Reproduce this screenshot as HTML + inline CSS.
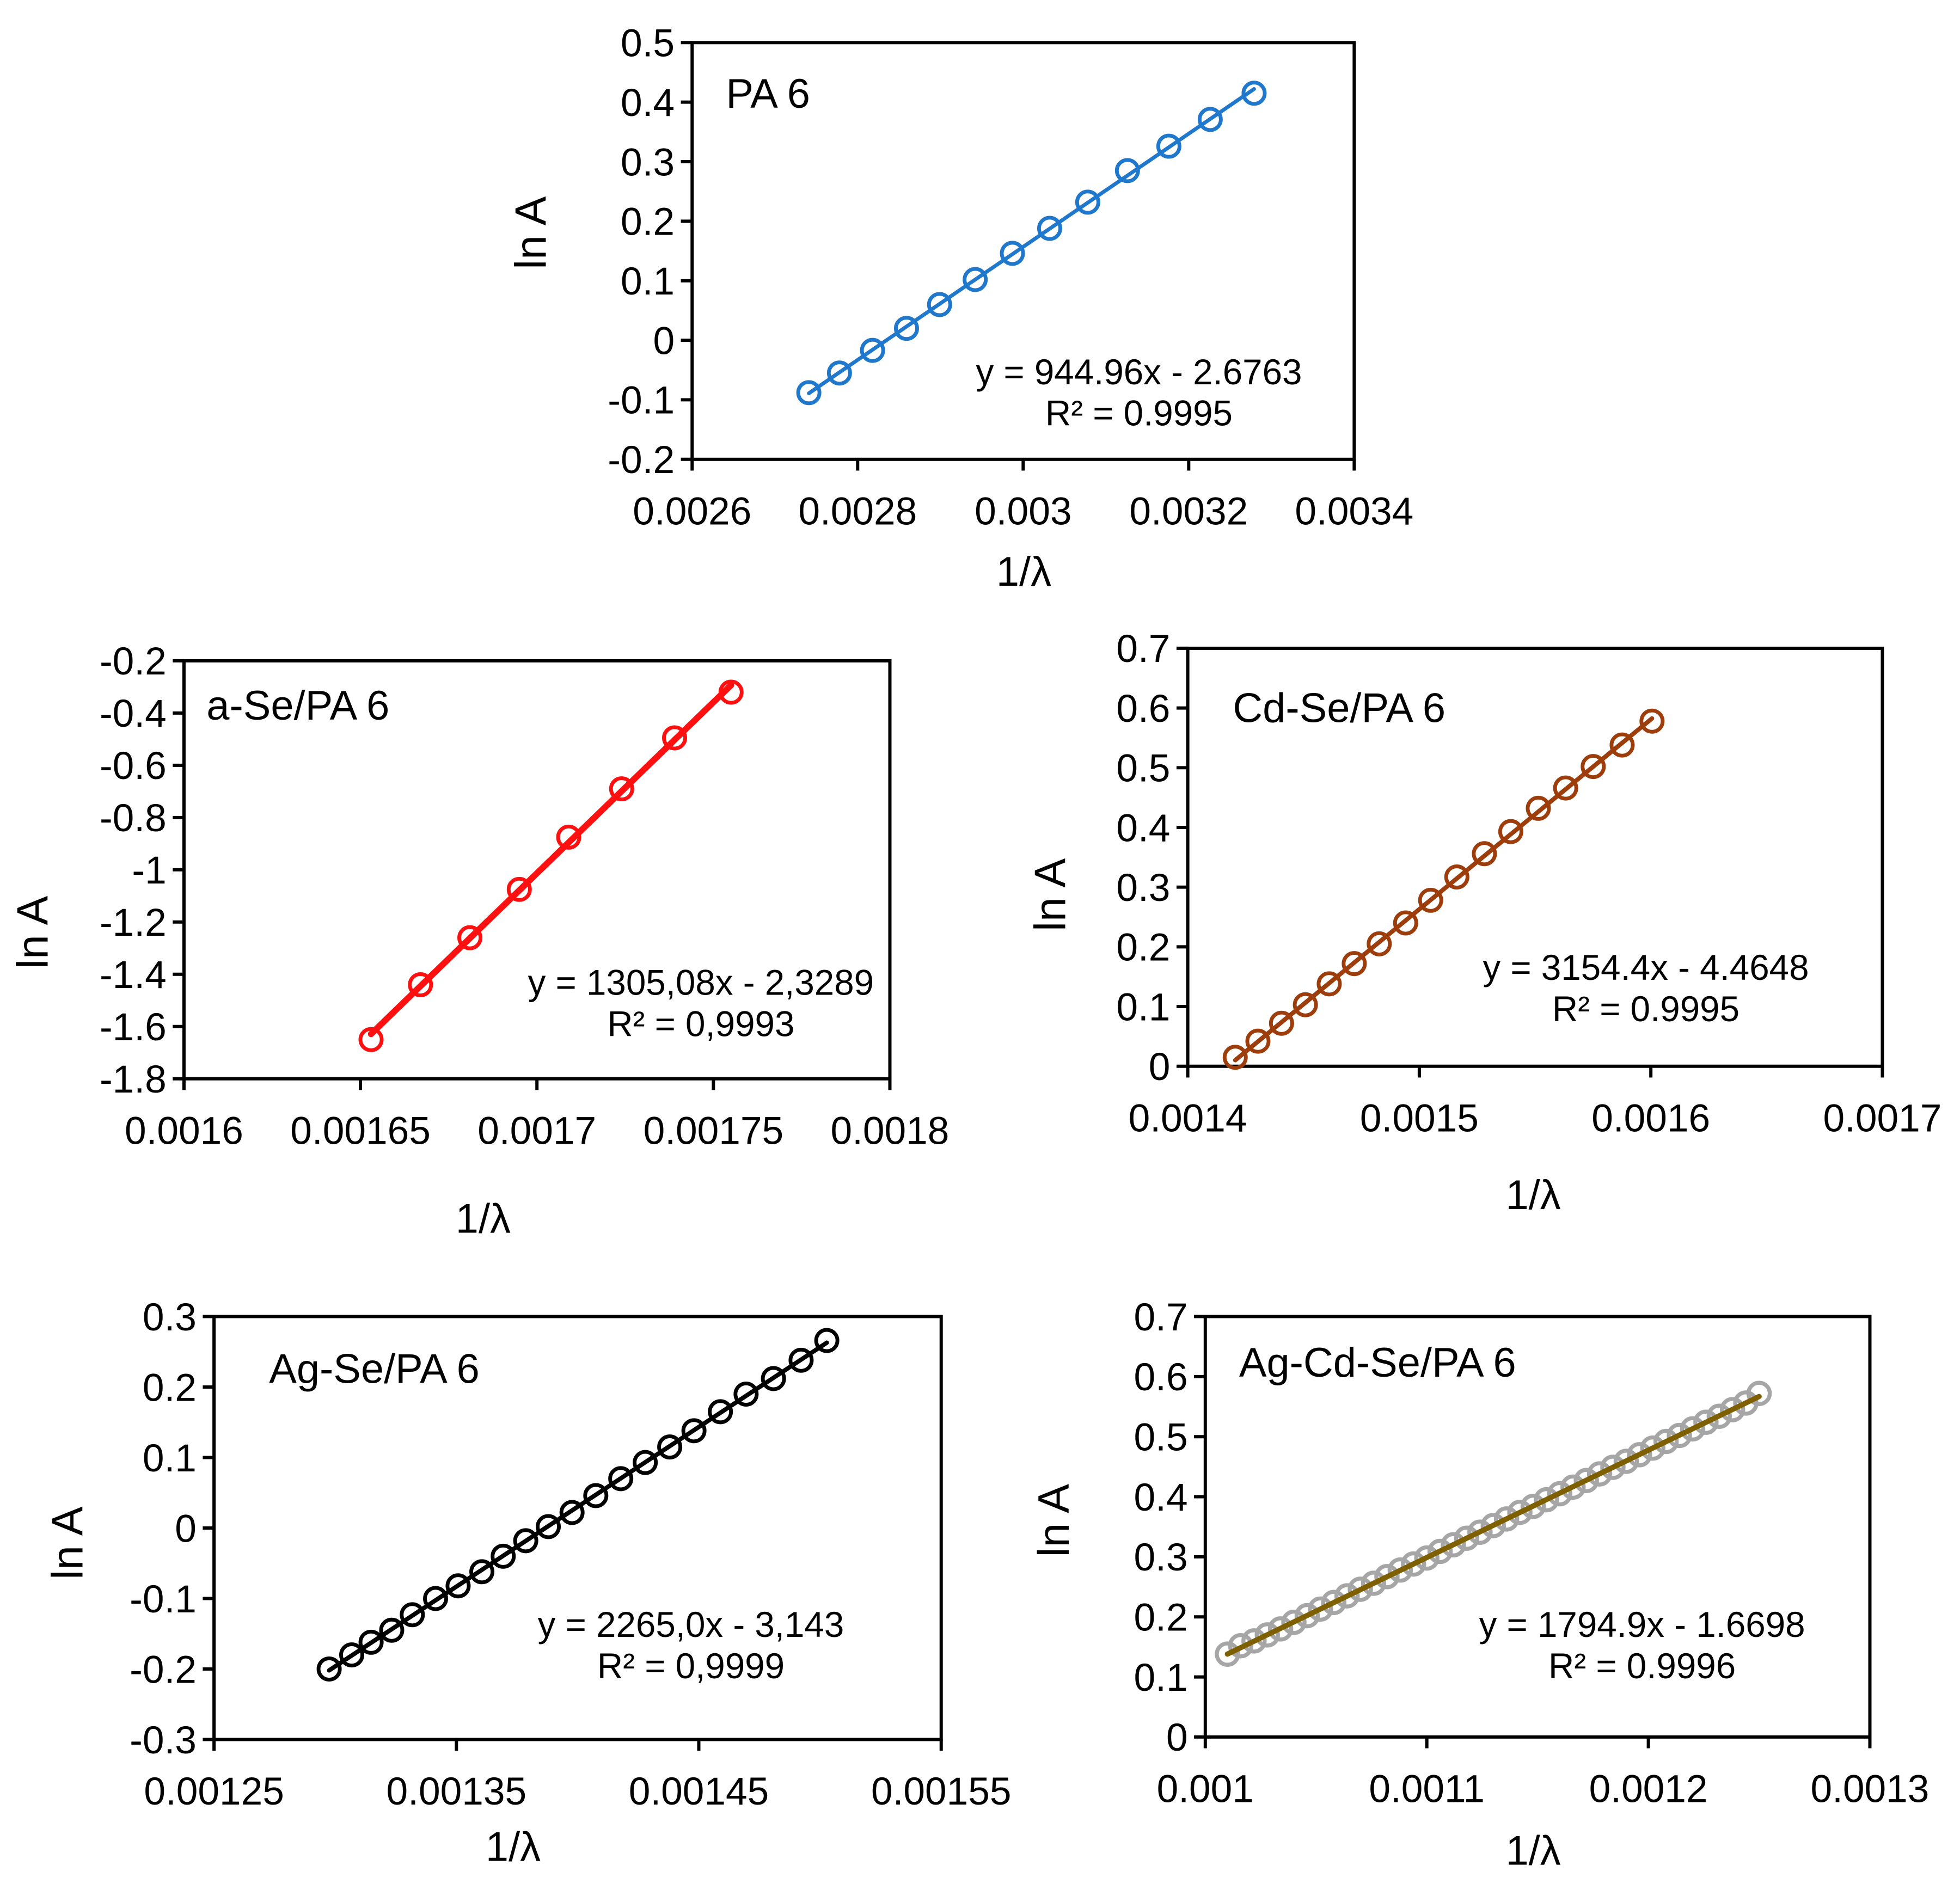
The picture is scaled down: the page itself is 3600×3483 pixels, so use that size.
<!DOCTYPE html>
<html><head><meta charset="utf-8"><style>
html,body{margin:0;padding:0;background:#fff;}
svg{display:block;font-family:"Liberation Sans",Arial,sans-serif;}
</style></head><body>
<svg id="fig" xmlns="http://www.w3.org/2000/svg" width="3600" height="3483" viewBox="0 0 1566 1515">
<rect width="1566" height="1515" fill="#fff"/>
</svg>
<script>
// PA 6
const pa6X = [0.002741,0.002778,0.002818,0.002859,0.002899,0.002942,0.002987,0.003032,0.003078,0.003126,0.003176,0.003226,0.003279];
const pa6Y = [-0.088,-0.055,-0.017,0.020,0.060,0.102,0.146,0.188,0.232,0.285,0.326,0.371,0.415];
const pa6XTicks = ["0.0026","0.0028","0.003","0.0032","0.0034"];
const pa6YTicks = ["-0.2","-0.1","0","0.1","0.2","0.3","0.4","0.5"];
// a-Se/PA 6
const aseX = [0.001653,0.001667,0.001681,0.001695,0.001709,0.001724,0.001739,0.001755];
const aseY = [-1.65,-1.44,-1.26,-1.075,-0.875,-0.69,-0.495,-0.32];
const aseXTicks = ["0.0016","0.00165","0.0017","0.00175","0.0018"];
const aseYTicks = ["-1.8","-1.6","-1.4","-1.2","-1","-0.8","-0.6","-0.4","-0.2"];
// Cd-Se/PA 6
const cdseX = [0.0014205,0.0014303,0.0014405,0.0014508,0.0014611,0.0014719,0.0014827,0.0014941,0.0015049,0.0015162,0.0015281,0.0015395,0.0015514,0.0015632,0.0015751,0.0015876,0.0016005];
const cdseY = [0.015,0.042,0.072,0.103,0.138,0.172,0.205,0.240,0.278,0.317,0.356,0.393,0.432,0.466,0.502,0.538,0.578];
const cdseXTicks = ["0.0014","0.0015","0.0016","0.0017"];
const cdseYTicks = ["0","0.1","0.2","0.3","0.4","0.5","0.6","0.7"];
// Ag-Se/PA 6
const agseX = [0.0012975,0.0013068,0.0013148,0.0013233,0.0013318,0.0013414,0.0013507,0.0013605,0.0013693,0.0013786,0.0013879,0.0013977,0.0014075,0.0014178,0.0014279,0.0014380,0.0014480,0.0014589,0.0014695,0.0014808,0.0014922,0.0015028];
const agseY = [-0.200,-0.180,-0.162,-0.145,-0.123,-0.100,-0.082,-0.062,-0.040,-0.018,0.002,0.022,0.046,0.070,0.093,0.115,0.138,0.165,0.190,0.212,0.238,0.266];
const agseXTicks = ["0.00125","0.00135","0.00145","0.00155"];
const agseYTicks = ["-0.3","-0.2","-0.1","0","0.1","0.2","0.3"];
// Ag-Cd-Se/PA 6
const agcdseX = [0.001010,0.001016,0.001022,0.001028,0.001034,0.001040,0.001046,0.001052,0.001058,0.001064,0.001070,0.001076,0.001082,0.001088,0.001094,0.001100,0.001106,0.001112,0.001118,0.001124,0.001130,0.001136,0.001142,0.001148,0.001154,0.001160,0.001166,0.001172,0.001178,0.001184,0.001190,0.001196,0.001202,0.001208,0.001214,0.001220,0.001226,0.001232,0.001238,0.001244,0.001250];
const agcdseY = [0.138,0.152,0.160,0.170,0.180,0.191,0.202,0.213,0.224,0.235,0.246,0.256,0.267,0.278,0.288,0.298,0.309,0.320,0.331,0.341,0.352,0.363,0.374,0.384,0.395,0.405,0.416,0.427,0.438,0.449,0.459,0.470,0.481,0.492,0.502,0.513,0.524,0.534,0.545,0.556,0.572];
const agcdseXTicks = ["0.001","0.0011","0.0012","0.0013"];
const agcdseYTicks = ["0","0.1","0.2","0.3","0.4","0.5","0.6","0.7"];

const NS = "http://www.w3.org/2000/svg";
const svg = document.getElementById('fig');
function mk(tag, attrs, parent){
  const e = document.createElementNS(NS, tag);
  for (const k in attrs) e.setAttribute(k, attrs[k]);
  parent.appendChild(e); return e;
}
function txt(s, x, y, size, anchor, parent){
  const t = mk('text', {x:x, y:y, 'font-size':size, 'text-anchor':anchor, fill:'#000'}, parent);
  t.textContent = s; return t;
}
function chart(c){
  const g = mk('g', {}, svg);
  
  
  const xs = c.xTicks.map(Number), ys = c.yTicks.map(Number);
  const x0 = xs[0], x1 = xs[xs.length-1], y0 = ys[0], y1 = ys[ys.length-1];
  const sx = v => c.L + (v - x0) / (x1 - x0) * (c.R - c.L);
  const sy = v => c.B - (v - y0) / (y1 - y0) * (c.B - c.T);
  const box = mk('rect', {x:c.L, y:c.T, width:c.R-c.L, height:c.B-c.T, fill:'none', stroke:'#000', 'stroke-width':2.6}, g);
  
  
  c.yTicks.forEach((s,i) => {
    const y = sy(ys[i]);
    mk('line', {x1:c.L-9, x2:c.L, y1:y, y2:y, stroke:'#000', 'stroke-width':2.6}, g);
    const t = txt(s, c.L-14, y+11, 31, 'end', g);
    
    
  });
  c.xTicks.forEach((s,i) => {
    const x = sx(xs[i]);
    mk('line', {x1:x, x2:x, y1:c.B, y2:c.B+9, stroke:'#000', 'stroke-width':2.6}, g);
    const t = txt(s, x, c.B+52, 31, 'middle', g);
    
    
  });
  const n = c.x.length;
  let mx=0,my=0; for (let i=0;i<n;i++){mx+=c.x[i];my+=c.y[i];} mx/=n; my/=n;
  let sxy=0,sxx=0; for (let i=0;i<n;i++){sxy+=(c.x[i]-mx)*(c.y[i]-my); sxx+=(c.x[i]-mx)**2;}
  const m = sxy/sxx, b = my - m*mx;
  const xa = Math.min(...c.x), xb = Math.max(...c.x);
  c.x.forEach((v,i) => {
    const p = mk('circle', {cx:sx(v), cy:sy(c.y[i]), r:c.r, fill:'none', stroke:c.mcolor, 'stroke-width':c.mw}, g);
    
    
  });
  const ln = mk('line', {x1:sx(xa), y1:sy(m*xa+b), x2:sx(xb), y2:sy(m*xb+b), stroke:c.lcolor, 'stroke-width':c.lw, 'stroke-linecap':'round'}, g);
  
  
  const ti = txt(c.title, c.titleX, c.titleY, 33, 'start', g);
  
  
  const e1 = txt(c.eq1, c.eqX, c.eqY, 28.5, 'middle', g);
  
  
  const e2 = txt(c.eq2, c.eqX, c.eqY+33, 28.5, 'middle', g);
  
  
  const xt = txt('1/λ', c.xtX, c.xtY, 33, 'middle', g);
  
  
  const yt = txt('ln A', c.ytX, c.ytY, 35, 'middle', g);
  yt.setAttribute('transform', `rotate(-90 ${c.ytX} ${c.ytY})`);
  
  
}
chart({name:'chart-pa6', x:pa6X, y:pa6Y, xTicks:pa6XTicks, yTicks:pa6YTicks, L:553, R:1082, T:34, B:367,
  mcolor:'#1F78CC', lcolor:'#1F78CC', r:8.5, mw:3, lw:3, title:'PA 6', titleX:580, titleY:86,
  eq1:'y = 944.96x - 2.6763', eq2:'R² = 0.9995', eqX:910, eqY:307, xtX:818, xtY:468, ytX:436, ytY:186});
chart({name:'chart-a-se-pa6', x:aseX, y:aseY, xTicks:aseXTicks, yTicks:aseYTicks, L:147, R:711, T:528, B:862,
  mcolor:'#FF1010', lcolor:'#FF1010', r:8.5, mw:3, lw:5, title:'a-Se/PA 6', titleX:165, titleY:575,
  eq1:'y = 1305,08x - 2,3289', eq2:'R² = 0,9993', eqX:560, eqY:795, xtX:386, xtY:985, ytX:38, ytY:745});
chart({name:'chart-cd-se-pa6', x:cdseX, y:cdseY, xTicks:cdseXTicks, yTicks:cdseYTicks, L:949, R:1504, T:518, B:852,
  mcolor:'#9C3D0B', lcolor:'#9C3D0B', r:8.5, mw:3, lw:3.5, title:'Cd-Se/PA 6', titleX:985, titleY:577,
  eq1:'y = 3154.4x - 4.4648', eq2:'R² = 0.9995', eqX:1315, eqY:783, xtX:1225, xtY:966, ytX:851, ytY:715});
chart({name:'chart-ag-se-pa6', x:agseX, y:agseY, xTicks:agseXTicks, yTicks:agseYTicks, L:171, R:752, T:1052, B:1390,
  mcolor:'#000', lcolor:'#000', r:8.5, mw:3, lw:3.5, title:'Ag-Se/PA 6', titleX:215, titleY:1105,
  eq1:'y = 2265,0x - 3,143', eq2:'R² = 0,9999', eqX:552, eqY:1308, xtX:410, xtY:1487, ytX:66, ytY:1233});
chart({name:'chart-ag-cd-se-pa6', x:agcdseX, y:agcdseY, xTicks:agcdseXTicks, yTicks:agcdseYTicks, L:963, R:1494, T:1052, B:1388,
  mcolor:'#A6A6A6', lcolor:'#7F6000', r:8.5, mw:3.2, lw:4.2, title:'Ag-Cd-Se/PA 6', titleX:990, titleY:1100,
  eq1:'y = 1794.9x - 1.6698', eq2:'R² = 0.9996', eqX:1312, eqY:1308, xtX:1225, xtY:1490, ytX:854, ytY:1215});
</script>
</body></html>
